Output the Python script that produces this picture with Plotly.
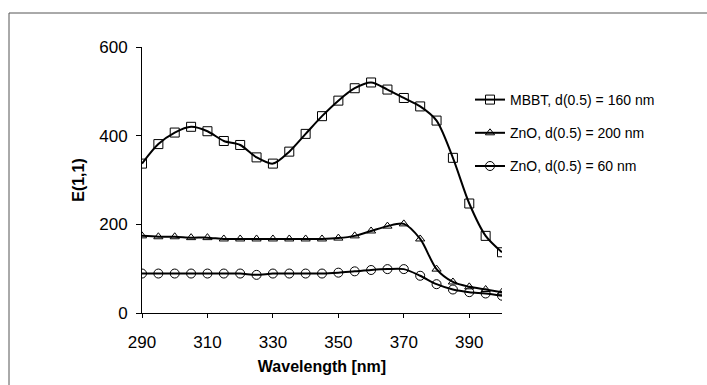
import plotly.graph_objects as go

wavelength = [290, 295, 300, 305, 310, 315, 320, 325, 330, 335, 340, 345, 350, 355,
              360, 365, 370, 375, 380, 385, 390, 395, 400]
mbbt_160 = [337, 381, 407, 420, 410, 388, 379, 351, 337, 364, 404, 444, 479, 507,
            520, 504, 485, 466, 434, 350, 247, 174, 137]
zno_200 = [174, 172, 172, 170, 170, 167, 167, 167, 167, 167, 167, 167, 169, 174,
           185, 196, 201, 167, 99, 70, 59, 53, 47]
zno_60 = [89, 89, 89, 89, 89, 89, 89, 86, 89, 89, 89, 89, 91, 94,
          97, 99, 99, 84, 65, 53, 47, 44, 39]

series_names = ["MBBT, d(0.5) = 160 nm", "ZnO, d(0.5) = 200 nm", "ZnO, d(0.5) = 60 nm"]
series_values = [mbbt_160, zno_200, zno_60]
series_symbols = ["square-open", "triangle-up-open", "circle-open"]
series_sizes = [9, 8, 9]

x_ticks = [290, 310, 330, 350, 370, 390]
y_ticks = [0, 200, 400, 600]

fig = go.Figure()
for i, (name, vals, sym, sz) in enumerate(zip(series_names, series_values, series_symbols, series_sizes)):
    fig.add_trace(go.Scatter(
        x=wavelength, y=vals, name=name, mode="lines+markers",
        line=dict(color="black", width=2, shape="spline", smoothing=0.8),
        marker=dict(symbol=sym, size=sz, color="black", line=dict(color="black", width=1)),
        legendgroup=f"g{i}",
    ))

W, H = 707, 385
L, R, T, B = 142, 205, 47, 72
pw, ph = W - L - R, H - T - B

fig.update_layout(
    width=W, height=H,
    margin=dict(l=L, r=R, t=T, b=B),
    paper_bgcolor="white", plot_bgcolor="white",
    font=dict(family="Liberation Sans, Arial, sans-serif", color="black", size=17),
    showlegend=True,
    legend=dict(
        x=(470 - L) / pw, y=(T + ph - 84) / ph, xanchor="left", yanchor="top",
        font=dict(size=14), bgcolor="rgba(0,0,0,0)",
        tracegroupgap=12, itemwidth=30,
    ),
    xaxis=dict(
        range=[290, 400], tickvals=x_ticks, showline=True, linecolor="black", linewidth=1,
        ticks="outside", ticklen=4, tickcolor="black", showgrid=False, zeroline=False,
        ticklabelstandoff=10,
        title=dict(text="<b>Wavelength [nm]</b>", font=dict(size=16), standoff=9),
        tickfont=dict(size=17),
    ),
    yaxis=dict(
        range=[0, 600], tickvals=y_ticks, showline=True, linecolor="black", linewidth=1,
        ticks="outside", ticklen=5, tickcolor="black", showgrid=False, zeroline=False,
        ticklabelstandoff=5,
        title=dict(text="<b>E(1,1)</b>", font=dict(size=16), standoff=10),
        tickfont=dict(size=17),
    ),
    shapes=[dict(
        type="rect", xref="paper", yref="paper",
        x0=(9 - L) / pw, x1=(720 - L) / pw,
        y0=-(400 - T - ph) / ph, y1=(T + ph - 13) / ph,
        line=dict(color="#555555", width=1), fillcolor="rgba(0,0,0,0)", layer="below",
    )],
)

fig.write_html("out.html")
